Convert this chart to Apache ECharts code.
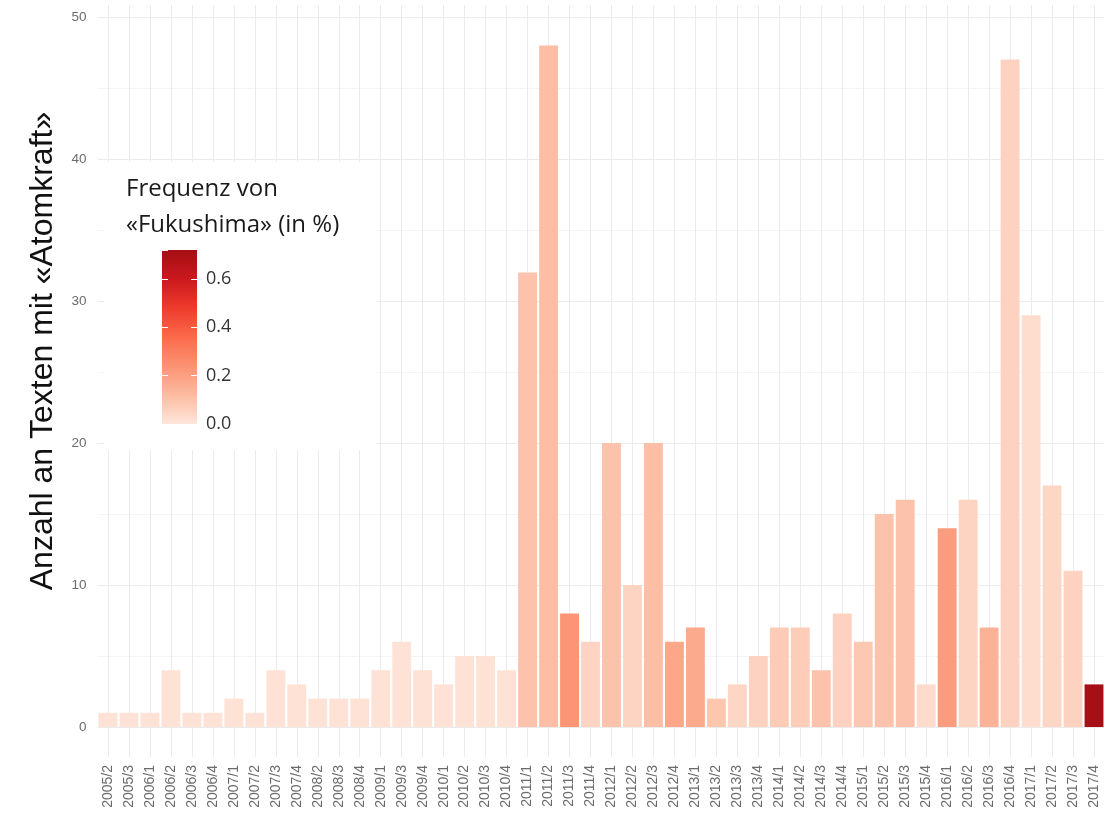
<!DOCTYPE html>
<html>
<head>
<meta charset="utf-8">
<script src="https://cdn.jsdelivr.net/npm/echarts@6/dist/echarts.min.js"></script>
<style>
  html, body { margin: 0; padding: 0; background: #fff; }
  #chart { width: 1119px; height: 814px; }
</style>
</head>
<body>
<div id="chart"></div>
<script>
// ---- data ----
const categories = ['2005/2','2005/3','2006/1','2006/2','2006/3','2006/4','2007/1','2007/2','2007/3','2007/4',
  '2008/2','2008/3','2008/4','2009/1','2009/3','2009/4','2010/1','2010/2','2010/3','2010/4',
  '2011/1','2011/2','2011/3','2011/4','2012/1','2012/2','2012/3','2012/4','2013/1','2013/2','2013/3','2013/4',
  '2014/1','2014/2','2014/3','2014/4','2015/1','2015/2','2015/3','2015/4','2016/1','2016/2','2016/3','2016/4',
  '2017/1','2017/2','2017/3','2017/4'];
const textCounts = [1,1,1,4,1,1,2,1,4,3,
  2,2,2,4,6,4,3,5,5,4,
  32,48,8,6,20,10,20,6,7,2,3,5,
  7,7,4,8,6,15,16,3,14,16,7,47,
  29,17,11,3];
const fukushimaFreq = [0.01,0.01,0.01,0.01,0.01,0.01,0.01,0.01,0.01,0.01,
  0.01,0.01,0.01,0.01,0.01,0.01,0.01,0.01,0.01,0.01,
  0.10,0.11,0.23,0.05,0.10,0.05,0.11,0.18,0.17,0.09,0.045,0.055,
  0.075,0.07,0.10,0.055,0.085,0.10,0.10,0.03,0.21,0.05,0.145,0.055,
  0.025,0.045,0.055,0.72];
const yTicks = [0, 10, 20, 30, 40, 50];
const legendTicks = [0, 0.2, 0.4, 0.6];
const freqMax = 0.72;
const palette = ['#fee6da','#fcbba1','#fc9272','#fb6a4a','#ef3b2c','#cb181d','#a50f15'];
const yTitle = 'Anzahl an Texten mit «Atomkraft»';
const legendTitle = 'Frequenz von\n«Fukushima» (in %)';

// ---- layout ----
const W = 1119, H = 814;
const gLeft = 97.5, gRight = 14.5, gTop = 17, gBottom = H - 727;
const catW = (W - gLeft - gRight) / categories.length;

const chart = echarts.init(document.getElementById('chart'), null, { renderer: 'canvas' });

const axisFont = 'Liberation Sans, Arial, sans-serif';

const option = {
  backgroundColor: '#ffffff',
  animation: false,
  title: {
    text: legendTitle,
    left: 121, top: 166, z: 30,
    textStyle: { fontFamily: 'Open Sans', fontSize: 24, fontWeight: 'normal', color: '#1a1a1a', lineHeight: 36 }
  },
  grid: [
    { left: gLeft, right: gRight, top: gTop, bottom: gBottom },
    { left: gLeft + catW / 2, right: gRight + catW / 2, top: 5, bottom: H - 757 },
    { left: 162, width: 35, top: 250, height: 174 }
  ],
  xAxis: [
    {
      type: 'category', gridIndex: 0, data: categories,
      axisLine: { show: false }, axisTick: { show: false }, splitLine: { show: false },
      axisLabel: { rotate: 90, interval: 0, margin: 38, color: '#6b6b6b', fontSize: 14, fontFamily: axisFont }
    },
    {
      type: 'category', gridIndex: 1, data: categories, boundaryGap: false,
      axisLine: { show: false }, axisTick: { show: false }, axisLabel: { show: false },
      splitLine: { show: true, interval: 0, lineStyle: { color: '#ebebeb', width: 1 } }
    },
    {
      type: 'category', gridIndex: 2, data: ['bar'], show: false
    }
  ],
  yAxis: [
    {
      type: 'value', gridIndex: 0, min: yTicks[0], max: yTicks[yTicks.length - 1], interval: yTicks[1] - yTicks[0],
      axisLine: { show: false }, axisTick: { show: false },
      axisLabel: { margin: 11, color: '#6b6b6b', fontSize: 13.5, fontFamily: axisFont },
      splitLine: { show: true, lineStyle: { color: '#ebebeb', width: 1 } },
      minorTick: { show: false, splitNumber: 2 },
      minorSplitLine: { show: true, lineStyle: { color: '#f4f4f4', width: 1 } }
    },
    {
      type: 'value', gridIndex: 1, min: 0, max: 1, show: false
    },
    {
      type: 'value', gridIndex: 2, min: 0, max: freqMax, interval: legendTicks[1] - legendTicks[0],
      position: 'right', z: 25,
      axisLine: { show: false },
      axisTick: { show: true, inside: true, length: 6, lineStyle: { color: '#ffffff', width: 1 } },
      axisLabel: { margin: 9, color: '#333333', fontSize: 18, fontFamily: 'Open Sans',
        showMaxLabel: false, formatter: v => v.toFixed(1) },
      splitLine: { show: false }
    },
    {
      type: 'value', gridIndex: 2, min: 0, max: freqMax, interval: legendTicks[1] - legendTicks[0],
      position: 'left', z: 25,
      axisLine: { show: false },
      axisTick: { show: true, inside: true, length: 6, lineStyle: { color: '#ffffff', width: 1 } },
      axisLabel: { show: false },
      splitLine: { show: false }
    }
  ],
  visualMap: {
    show: false, type: 'continuous', seriesIndex: 0, dimension: 2,
    min: 0, max: freqMax, inRange: { color: palette }
  },
  graphic: [
    {
      type: 'rect', z: 10, silent: true,
      shape: { x: 104, y: 162, width: 273, height: 288 },
      style: { fill: '#ffffff' }
    },
    {
      type: 'text', z: 10, silent: true,
      x: 43, y: 351, rotation: Math.PI / 2,
      style: { text: yTitle, font: '32px "Liberation Sans", Arial, sans-serif', fill: '#111111',
        textAlign: 'center', textVerticalAlign: 'middle' }
    }
  ],
  series: [
    {
      type: 'bar', xAxisIndex: 0, yAxisIndex: 0, z: 3,
      barCategoryGap: '10%',
      encode: { x: 0, y: 1 },
      data: categories.map((c, i) => [c, textCounts[i], fukushimaFreq[i]])
    },
    {
      type: 'bar', xAxisIndex: 2, yAxisIndex: 2, z: 20, barWidth: '100%',
      data: [freqMax],
      itemStyle: {
        color: {
          type: 'linear', x: 0, y: 1, x2: 0, y2: 0,
          colorStops: palette.map((col, i) => ({ offset: i / (palette.length - 1), color: col }))
        }
      }
    }
  ]
};
chart.setOption(option);
</script>
</body>
</html>
